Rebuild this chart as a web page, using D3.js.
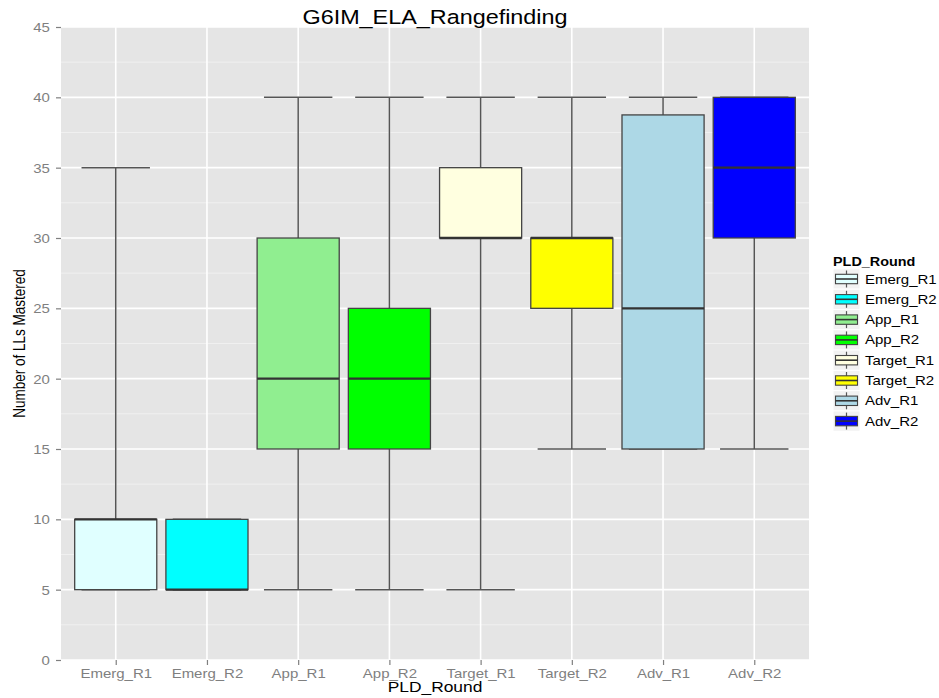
<!DOCTYPE html>
<html><head><meta charset="utf-8">
<script src="https://cdn.jsdelivr.net/npm/d3@7"></script>
<style>body{margin:0;background:#fff}svg{display:block}text{font-family:"Liberation Sans",Arial,sans-serif}</style>
</head><body>
<svg id="c" width="939" height="698"></svg>
<script>
const categories = ["Emerg_R1","Emerg_R2","App_R1","App_R2","Target_R1","Target_R2","Adv_R1","Adv_R2"];
const whiskerLow  = [5, 5, 5, 5, 5, 15, 15, 15];
const q1          = [5, 5, 15, 15, 30, 25, 15, 30];
const median      = [10, 5, 20, 20, 30, 30, 25, 35];
const q3          = [10, 10, 30, 25, 35, 30, 38.75, 40];
const whiskerHigh = [35, 10, 40, 40, 40, 40, 40, 40];
const fills = ["#E0FFFF","#00FFFF","#90EE90","#00FF00","#FFFFE0","#FFFF00","#ADD8E6","#0000FF"];
const yTicks = [0,5,10,15,20,25,30,35,40,45];
const yMinor = [2.5,7.5,12.5,17.5,22.5,27.5,32.5,37.5,42.5];
const title = "G6IM_ELA_Rangefinding";
const xTitle = "PLD_Round";
const yTitle = "Number of LLs Mastered";
const legendTitle = "PLD_Round";

const SX = 1.2; // horizontal stretch of the reference image
const svg = d3.select("#c");
const L = 61, R = 809, T = 27, B = 660;
const x = d3.scalePoint().domain(categories).range([L, R]).padding(0.6);
const y = d3.scaleLinear().domain([0, 45]).range([B, T]);
const step = x.step();

// panel
svg.append("rect").attr("x", L).attr("y", T).attr("width", R - L).attr("height", B - T).attr("fill", "#E5E5E5");
svg.selectAll(".minor").data(yMinor).enter().append("line")
  .attr("x1", L).attr("x2", R).attr("y1", d => y(d)).attr("y2", d => y(d))
  .attr("stroke", "#F0F0F0").attr("stroke-width", 1);
svg.selectAll(".majh").data(yTicks).enter().append("line")
  .attr("x1", L).attr("x2", R).attr("y1", d => y(d)).attr("y2", d => y(d))
  .attr("stroke", "#FFFFFF").attr("stroke-width", 1.6);
svg.selectAll(".majv").data(categories).enter().append("line")
  .attr("y1", T).attr("y2", B).attr("x1", d => x(d)).attr("x2", d => x(d))
  .attr("stroke", "#FFFFFF").attr("stroke-width", 1.6);

// axes
const ya = svg.append("g").attr("transform", `translate(${L},0)`)
  .call(d3.axisLeft(y).tickValues(yTicks).tickSize(5).tickPadding(4));
ya.select(".domain").remove();
ya.selectAll("line").attr("stroke", "#7F7F7F").attr("stroke-width", 1.2);
ya.selectAll("text").attr("fill", "#7F7F7F").attr("font-size", 12.5)
  .attr("x", -9.3).attr("dy", "0.36em").attr("transform", `scale(${SX},1)`);

const xa = svg.append("g").attr("transform", `translate(0,${B})`)
  .call(d3.axisBottom(x).tickSize(5).tickPadding(4));
xa.select(".domain").remove();
xa.selectAll("line").attr("stroke", "#7F7F7F").attr("stroke-width", 1.2);
xa.selectAll("text").attr("fill", "#7F7F7F").attr("font-size", 12.5)
  .attr("y", 0).attr("dy", 0).attr("transform", `translate(0,18) scale(${SX},1)`);

// boxes
const data = categories.map((c, i) => ({c, lo: whiskerLow[i], q1: q1[i], med: median[i], q3: q3[i], hi: whiskerHigh[i], fill: fills[i]}));
const g = svg.append("g");
const capW = step * 0.75, boxW = step * 0.9;
const stroke = "#444444";
data.forEach(d => {
  const cx = x(d.c);
  // whisker vertical
  g.append("line").attr("x1", cx).attr("x2", cx).attr("y1", y(d.lo)).attr("y2", y(d.hi))
    .attr("stroke", "#555").attr("stroke-width", 1.5);
  [d.lo, d.hi].forEach(v => g.append("line").attr("x1", cx - capW / 2).attr("x2", cx + capW / 2)
    .attr("y1", y(v)).attr("y2", y(v)).attr("stroke", "#555").attr("stroke-width", 1.5));
  g.append("rect").attr("x", cx - boxW / 2).attr("width", boxW)
    .attr("y", y(d.q3)).attr("height", y(d.q1) - y(d.q3))
    .attr("fill", d.fill).attr("stroke", stroke).attr("stroke-width", 1.3);
  g.append("line").attr("x1", cx - boxW / 2).attr("x2", cx + boxW / 2)
    .attr("y1", y(d.med)).attr("y2", y(d.med)).attr("stroke", "#333").attr("stroke-width", 2.3);
});

// texts
function stext(txt, tx, ty, size, opts = {}) {
  return svg.append("text").text(txt)
    .attr("transform", `translate(${tx},${ty}) scale(${SX},1)${opts.rot ? " rotate(-90)" : ""}`)
    .attr("font-size", size).attr("text-anchor", opts.anchor || "middle")
    .attr("font-weight", opts.bold ? "bold" : "normal").attr("fill", opts.fill || "#000");
}
stext(title, (L + R) / 2, 24, 19.5);
stext(xTitle, (L + R) / 2, 692, 14.5);
stext(yTitle, 25, (T + B) / 2, 13.5, {rot: true});

// legend
stext(legendTitle, 833, 266, 12, {anchor: "start", bold: true});
const lg = svg.append("g");
const rowH = 20.3, ly0 = 279;
data.forEach((d, i) => {
  const cy = ly0 + i * rowH;
  lg.append("rect").attr("x", 833).attr("y", cy - rowH / 2).attr("width", 27).attr("height", rowH)
    .attr("fill", "#F2F2F2").attr("stroke", "#FFFFFF").attr("stroke-width", 1);
  lg.append("line").attr("x1", 846.5).attr("x2", 846.5).attr("y1", cy - 8.5).attr("y2", cy + 8.5)
    .attr("stroke", "#555").attr("stroke-width", 1.2);
  lg.append("rect").attr("x", 835.5).attr("y", cy - 4.7).attr("width", 22).attr("height", 9.4)
    .attr("fill", d.fill).attr("stroke", stroke).attr("stroke-width", 1.1);
  lg.append("line").attr("x1", 835.5).attr("x2", 857.5).attr("y1", cy).attr("y2", cy)
    .attr("stroke", "#333").attr("stroke-width", 1.6);
  stext(d.c, 865, cy + 4.5, 12.5, {anchor: "start"});
});
</script>
</body></html>
